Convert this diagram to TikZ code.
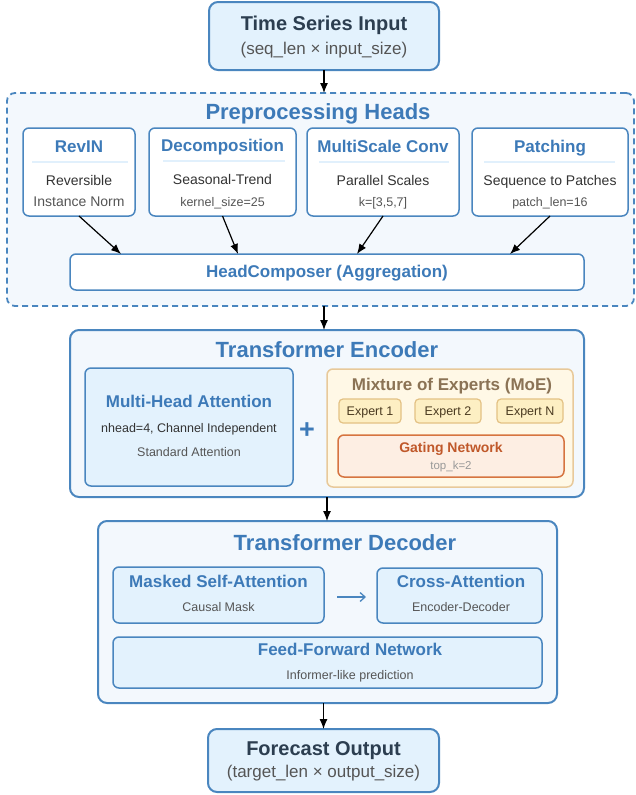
\documentclass[tikz,border=0pt]{standalone}
\usepackage{fontspec}
\setmainfont{Liberation Sans}
\usetikzlibrary{arrows.meta,calc}
\definecolor{bord}{HTML}{4A86BF}
\definecolor{bluet}{HTML}{3D7AB8}
\definecolor{darkt}{HTML}{2C3E50}
\definecolor{lb}{HTML}{E3F2FD}
\definecolor{cont}{HTML}{F3F8FD}
\definecolor{sepc}{HTML}{E1F0FC}
\definecolor{g3}{HTML}{333333}
\definecolor{g5}{HTML}{555555}
\definecolor{moefill}{HTML}{FFF8E6}
\definecolor{moebord}{HTML}{E8C99A}
\definecolor{moet}{HTML}{8B7355}
\definecolor{expfill}{HTML}{FDEFC3}
\definecolor{expbord}{HTML}{E3C184}
\definecolor{expt}{HTML}{4A3A20}
\definecolor{gatefill}{HTML}{FDEEE3}
\definecolor{gatebord}{HTML}{D67440}
\definecolor{gatet}{HTML}{C0582A}
\definecolor{g9}{HTML}{999999}
\newcommand{\myfs}[1]{\fontsize{#1}{#1}\selectfont}
\begin{document}
\begin{tikzpicture}[x=1pt,y=-1pt,
  box/.style={draw=bord, line width=1.5pt, rounded corners=6pt, inner sep=0pt, outer sep=0pt},
  bigbox/.style={box, line width=2pt, rounded corners=9pt},
  T/.style 2 args={font=\myfs{#1}#2, anchor=base, yshift=-0.35*#1 pt, inner sep=0pt, outer sep=0pt},
  arr/.style={-{Latex[length=10pt,width=8pt]}, line width=1.2pt, black},
  barr/.style={-{Straight Barb[length=5pt,width=9pt]}, line width=1.3pt, bord},
  sepl/.style={draw=sepc, line width=2pt}]
\useasboundingbox (0,0) rectangle (636,795);

% input
\node[bigbox, fill=lb, minimum width=230pt, minimum height=68pt] (tsi) at (324,36) {};
\node[T={20}{\bfseries}, text=darkt] (tsiT) at (324,23) {Time Series Input};
\node[T={17}{}, text=g5] (tsiS) at (324,49) {(seq\_len × input\_size)};

% preprocessing
\node[box, fill=cont, line width=1.8pt, dash pattern=on 6pt off 4pt, rounded corners=8pt, minimum width=627pt, minimum height=213pt] (prep) at (320.5,199.5) {};
\node[T={22}{\bfseries}, text=bluet] (prepT) at (318,112) {Preprocessing Heads};

\node[box, fill=white, minimum width=112pt, minimum height=88pt] (revin) at (79,172) {};
\node[box, fill=white, minimum width=147pt, minimum height=88pt] (decomp) at (222.5,172) {};
\node[box, fill=white, minimum width=152pt, minimum height=88pt] (msc) at (383,172) {};
\node[box, fill=white, minimum width=156pt, minimum height=88pt] (patch) at (550,172) {};

\draw[sepl] ($(revin.north west)+(9,34)$) -- ($(revin.north east)+(-7,34)$);
\draw[sepl] ($(decomp.north west)+(14,33)$) -- ($(decomp.north east)+(-11,33)$);
\draw[sepl] ($(msc.north west)+(12,34)$) -- ($(msc.north east)+(-10,34)$);
\draw[sepl] ($(patch.north west)+(12,34)$) -- ($(patch.north east)+(-13,34)$);

\node[T={17}{\bfseries}, text=bluet] (revinT) at (79,147) {RevIN};
\node[T={14}{}, text=g3] (revinA) at (79,181) {Reversible};
\node[T={14}{}, text=g5] (revinB) at (79,202) {Instance Norm};

\node[T={17}{\bfseries}, text=bluet] (decompT) at (222.5,146) {Decomposition};
\node[T={14}{}, text=g3] (decompA) at (222.5,180) {Seasonal-Trend};
\node[T={12.5}{}, text=g5] (decompB) at (222.5,202) {kernel\_size=25};

\node[T={17}{\bfseries}, text=bluet] (mscT) at (383,147) {MultiScale Conv};
\node[T={14}{}, text=g3] (mscA) at (383,181) {Parallel Scales};
\node[T={12.5}{}, text=g5] (mscB) at (383,202) {k=[3,5,7]};

\node[T={17}{\bfseries}, text=bluet] (patchT) at (550,147) {Patching};
\node[T={14}{}, text=g3] (patchA) at (550,181) {Sequence to Patches};
\node[T={12.5}{}, text=g5] (patchB) at (550,202) {patch\_len=16};

\node[box, fill=white, minimum width=514pt, minimum height=36pt] (hc) at (327,272) {};
\node[T={17}{\bfseries}, text=bluet] (hcT) at (327,272) {HeadComposer (Aggregation)};

\draw[arr] (revin.south) -- ([xshift=-206pt]hc.north);
\draw[arr] (decomp.south) -- ([xshift=-89pt]hc.north);
\draw[arr] (msc.south) -- ([xshift=30pt]hc.north);
\draw[arr] (patch.south) -- ([xshift=183pt]hc.north);

% encoder
\node[bigbox, fill=cont, minimum width=514pt, minimum height=167pt] (enc) at (327,413.5) {};
\node[T={22}{\bfseries}, text=bluet] (encT) at (327,350) {Transformer Encoder};

\node[box, fill=lb, minimum width=208pt, minimum height=118pt] (mha) at (189,427) {};
\node[T={17}{\bfseries}, text=bluet] (mhaT) at (189,402) {Multi-Head Attention};
\node[T={12.5}{}, text=g3] (mhaA) at (189,428) {nhead=4, Channel Independent};
\node[T={12.5}{}, text=g5] (mhaB) at (189,452) {Standard Attention};

\node[T={27}{\bfseries}, text=bluet] (plus) at (307,429) {+};

\node[box, draw=moebord, fill=moefill, minimum width=246pt, minimum height=118pt] (moe) at (450,428) {};
\node[T={17}{\bfseries}, text=moet] (moeT) at (452,385) {Mixture of Experts (MoE)};

\node[box, draw=expbord, fill=expfill, line width=1.2pt, rounded corners=4pt, minimum width=62pt, minimum height=24pt] (e1) at (370,411) {};
\node[box, draw=expbord, fill=expfill, line width=1.2pt, rounded corners=4pt, minimum width=66pt, minimum height=24pt] (e2) at (448,411) {};
\node[box, draw=expbord, fill=expfill, line width=1.2pt, rounded corners=4pt, minimum width=66pt, minimum height=24pt] (eN) at (530,411) {};
\node[T={12.5}{}, text=expt] (e1T) at (370,411) {Expert 1};
\node[T={12.5}{}, text=expt] (e2T) at (448,411) {Expert 2};
\node[T={12.5}{}, text=expt] (eNT) at (530,411) {Expert N};

\node[box, draw=gatebord, fill=gatefill, minimum width=226pt, minimum height=42pt] (gate) at (451,456) {};
\node[T={14}{\bfseries}, text=gatet] (gateT) at (451,448) {Gating Network};
\node[T={11.5}{}, text=g9] (gateS) at (451,465) {top\_k=2};

% decoder
\node[bigbox, fill=cont, minimum width=459pt, minimum height=182pt] (dec) at (327.5,612) {};
\node[T={22}{\bfseries}, text=bluet] (decT) at (345,543) {Transformer Decoder};

\node[box, fill=lb, minimum width=211pt, minimum height=56pt] (masked) at (218.5,595) {};
\node[T={17}{\bfseries}, text=bluet] (maskedT) at (218.5,582) {Masked Self-Attention};
\node[T={12.5}{}, text=g5] (maskedS) at (218.5,607) {Causal Mask};

\node[box, fill=lb, minimum width=165pt, minimum height=55pt] (cross) at (459.5,595.5) {};
\node[T={17}{\bfseries}, text=bluet] (crossT) at (461,582) {Cross-Attention};
\node[T={12.5}{}, text=g5] (crossS) at (461,607) {Encoder-Decoder};

\draw[barr] ([xshift=13pt,yshift=-2pt]masked.east) -- ([xshift=-11pt,yshift=-2pt]cross.west |- masked.east);

\node[box, fill=lb, minimum width=429pt, minimum height=51pt] (ffn) at (327.5,662.5) {};
\node[T={17}{\bfseries}, text=bluet] (ffnT) at (350,650) {Feed-Forward Network};
\node[T={12.5}{}, text=g5] (ffnS) at (350,675) {Informer-like prediction};

% output
\node[bigbox, fill=lb, minimum width=231pt, minimum height=63pt] (fc) at (323.5,760.5) {};
\node[T={20}{\bfseries}, text=darkt] (fcT) at (323.5,748) {Forecast Output};
\node[T={17}{}, text=g5] (fcS) at (323.5,772) {(target\_len × output\_size)};

% main flow
\draw[arr] (tsi.south) -- (tsi.south |- prep.north);
\draw[arr] (tsi.south |- prep.south) -- (tsi.south |- enc.north);
\draw[arr] (enc.south) -- (enc.south |- dec.north);
\draw[arr] (fc.north |- dec.south) -- (fc.north);
\end{tikzpicture}
\end{document}
